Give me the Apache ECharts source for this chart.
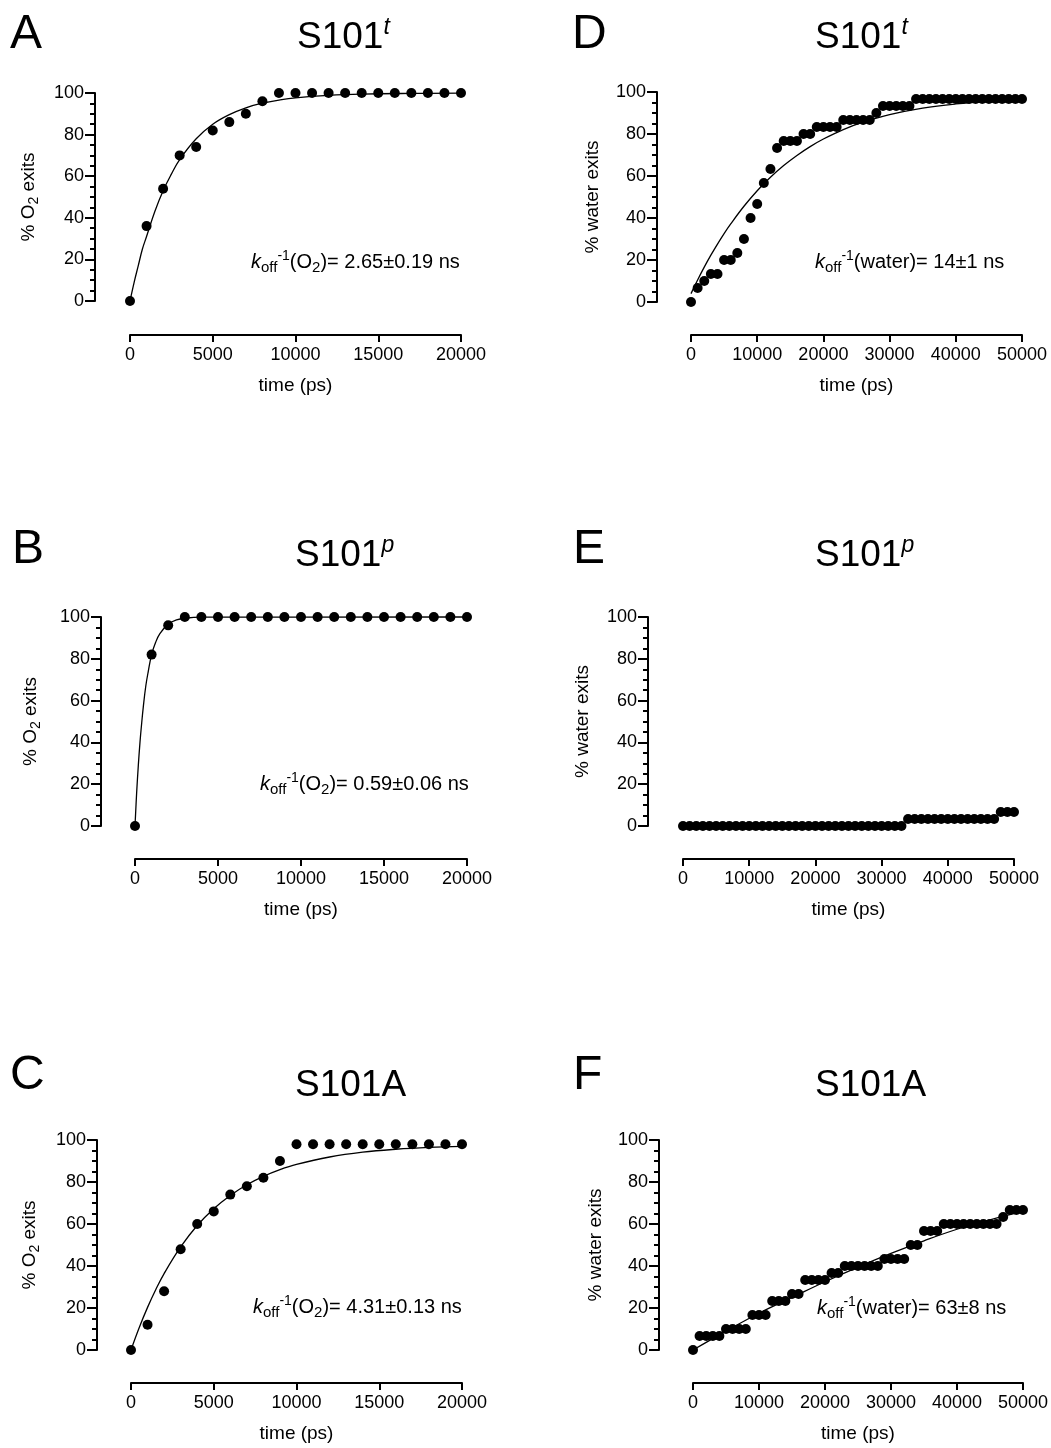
<!DOCTYPE html>
<html>
<head>
<meta charset="utf-8">
<script src="https://cdn.jsdelivr.net/npm/echarts@6/dist/echarts.min.js"></script>
<style>
  html, body { margin: 0; padding: 0; background: #fff; }
  #chart { width: 1051px; height: 1448px; }
</style>
</head>
<body>
<div id="chart"></div>
<script>
var myChart = echarts.init(document.getElementById('chart'));

// time points (ps)
var tO2 = [0, 1000, 2000, 3000, 4000, 5000, 6000, 7000, 8000, 9000, 10000,
  11000, 12000, 13000, 14000, 15000, 16000, 17000, 18000, 19000, 20000];
var tWater = [0, 1000, 2000, 3000, 4000, 5000, 6000, 7000, 8000, 9000, 10000,
  11000, 12000, 13000, 14000, 15000, 16000, 17000, 18000, 19000, 20000,
  21000, 22000, 23000, 24000, 25000, 26000, 27000, 28000, 29000, 30000,
  31000, 32000, 33000, 34000, 35000, 36000, 37000, 38000, 39000, 40000,
  41000, 42000, 43000, 44000, 45000, 46000, 47000, 48000, 49000, 50000];

// % O2 exits (A, B, C)
var o2A = [0, 36, 54, 70, 74, 82, 86, 90, 96, 100, 100, 100, 100, 100, 100, 100, 100, 100, 100, 100, 100];
var o2B = [0, 82, 96, 100, 100, 100, 100, 100, 100, 100, 100, 100, 100, 100, 100, 100, 100, 100, 100, 100, 100];
var o2C = [0, 12, 28, 48, 60, 66, 74, 78, 82, 90, 98, 98, 98, 98, 98, 98, 98, 98, 98, 98, 98];

// % water exits (D, E, F)
var waterD = [0, 6.67, 10, 13.33, 13.33, 20, 20, 23.33, 30, 40, 46.67,
  56.67, 63.33, 73.33, 76.67, 76.67, 76.67, 80, 80, 83.33, 83.33,
  83.33, 83.33, 86.67, 86.67, 86.67, 86.67, 86.67, 90, 93.33, 93.33,
  93.33, 93.33, 93.33, 96.67, 96.67, 96.67, 96.67, 96.67, 96.67, 96.67,
  96.67, 96.67, 96.67, 96.67, 96.67, 96.67, 96.67, 96.67, 96.67, 96.67];
var waterE = [0, 0, 0, 0, 0, 0, 0, 0, 0, 0, 0,
  0, 0, 0, 0, 0, 0, 0, 0, 0, 0,
  0, 0, 0, 0, 0, 0, 0, 0, 0, 0,
  0, 0, 0, 3.33, 3.33, 3.33, 3.33, 3.33, 3.33, 3.33,
  3.33, 3.33, 3.33, 3.33, 3.33, 3.33, 3.33, 6.67, 6.67, 6.67];
var waterF = [0, 6.67, 6.67, 6.67, 6.67, 10, 10, 10, 10, 16.67, 16.67,
  16.67, 23.33, 23.33, 23.33, 26.67, 26.67, 33.33, 33.33, 33.33, 33.33,
  36.67, 36.67, 40, 40, 40, 40, 40, 40, 43.33, 43.33,
  43.33, 43.33, 50, 50, 56.67, 56.67, 56.67, 60, 60, 60,
  60, 60, 60, 60, 60, 60, 63.33, 66.67, 66.67, 66.67];

// fitted curves: [time, %]
var fitA = [[0, 0], [250, 9], [500, 17], [750, 25], [1000, 31], [1500, 43], [2000, 53], [2500, 61],
  [3000, 68], [4000, 78], [5000, 85], [6000, 89.6], [7000, 92.9], [8000, 95.1], [9000, 96.6],
  [10000, 97.7], [12000, 98.9], [14000, 99.5], [17000, 99.8], [20000, 99.9]];
var fitB = [[0, 0], [100, 16], [200, 29], [300, 40], [400, 49], [500, 57], [650, 67], [800, 74],
  [1000, 82], [1250, 88], [1500, 92], [2000, 96.6], [2500, 98.6], [3000, 99.4], [4000, 99.9], [20000, 100]];
var fitC = [[0, 0], [500, 10.7], [1000, 20.3], [1500, 28.8], [2000, 36.4], [3000, 49.1], [4000, 59.3],
  [5000, 67.3], [6000, 73.6], [7000, 78.7], [8000, 82.7], [9000, 85.9], [10000, 88.4], [12000, 91.9],
  [14000, 94.2], [16000, 95.6], [18000, 96.5], [20000, 97]];
var fitD = [[0, 4], [1000, 10.5], [2000, 16.6], [3000, 22.3], [4000, 27.6], [5000, 32.6], [6000, 37.2],
  [8000, 45.6], [10000, 53], [12000, 59.4], [14000, 65], [16000, 69.8], [18000, 74], [20000, 77.6],
  [23000, 82.1], [26000, 85.6], [30000, 89.2], [35000, 92.3], [40000, 94.3], [45000, 95.6], [50000, 96.4]];
var fitF = [[0, 0], [5000, 9], [10000, 17.5], [15000, 25], [20000, 32.5], [25000, 39.5],
  [30000, 46], [35000, 52], [40000, 57.5], [45000, 62], [50000, 66]];

var FONT = 'Liberation Sans, Arial, sans-serif';
var INK = '#000';

var pairs = function(xs, ys) {
  var res = [];
  for (var i = 0; i < xs.length; i++) {
    res.push([xs[i], ys[i]]);
  }
  return res;
};

// panel layout
var panels = [
  {letter: 'A', title: '{m|S101}{sup|t}', yName: '% O{sub|2} exits', note: '{k|k}{sub|off}{sup|-1}{m|(O}{sub|2}{m|)= 2.65±0.19 ns}',
    left: 130, top: 93, width: 331, height: 208, yOff: 35, xOff: 34, nameGap: 54, xMax: 20000, xInt: 5000,
    pts: pairs(tO2, o2A), fit: fitA, letterPos: [10, 35], titlePos: [297, 38], notePos: [251, 262]},
  {letter: 'D', title: '{m|S101}{sup|t}', yName: '% water exits', note: '{k|k}{sub|off}{sup|-1}{m|(water)= 14±1 ns}',
    left: 691, top: 92, width: 331, height: 210, yOff: 34, xOff: 33, nameGap: 52, xMax: 50000, xInt: 10000,
    pts: pairs(tWater, waterD), fit: fitD, letterPos: [572, 35], titlePos: [815, 38], notePos: [815, 262]},
  {letter: 'B', title: '{m|S101}{sup|p}', yName: '% O{sub|2} exits', note: '{k|k}{sub|off}{sup|-1}{m|(O}{sub|2}{m|)= 0.59±0.06 ns}',
    left: 135, top: 617, width: 332, height: 209, yOff: 34, xOff: 33, nameGap: 58, xMax: 20000, xInt: 5000,
    pts: pairs(tO2, o2B), fit: fitB, letterPos: [12, 550], titlePos: [295, 556], notePos: [260, 784]},
  {letter: 'E', title: '{m|S101}{sup|p}', yName: '% water exits', note: null,
    left: 683, top: 617, width: 331, height: 209, yOff: 35, xOff: 33, nameGap: 53, xMax: 50000, xInt: 10000,
    pts: pairs(tWater, waterE), fit: null, letterPos: [573, 550], titlePos: [815, 556], notePos: null},
  {letter: 'C', title: '{m|S101A}', yName: '% O{sub|2} exits', note: '{k|k}{sub|off}{sup|-1}{m|(O}{sub|2}{m|)= 4.31±0.13 ns}',
    left: 131, top: 1140, width: 331, height: 210, yOff: 34, xOff: 33, nameGap: 55, xMax: 20000, xInt: 5000,
    pts: pairs(tO2, o2C), fit: fitC, letterPos: [10, 1076], titlePos: [295, 1086], notePos: [253, 1307]},
  {letter: 'F', title: '{m|S101A}', yName: '% water exits', note: '{k|k}{sub|off}{sup|-1}{m|(water)= 63±8 ns}',
    left: 693, top: 1140, width: 332, height: 210, yOff: 34, xOff: 33, nameGap: 51, xMax: 50000, xInt: 10000,
    pts: pairs(tWater, waterF), fit: fitF, letterPos: [573, 1076], titlePos: [815, 1086], notePos: [817, 1308]}
];

var noteRich = {
  m: {fontSize: 20, lineHeight: 26, fontFamily: FONT, fill: INK},
  k: {fontSize: 20, lineHeight: 26, fontFamily: FONT, fontStyle: 'italic', fill: INK},
  sub: {fontSize: 15, lineHeight: 13, fontFamily: FONT, fill: INK, verticalAlign: 'bottom'},
  sup: {fontSize: 14, lineHeight: 13, fontFamily: FONT, fill: INK, verticalAlign: 'top'}
};
var titleRich = {
  m: {fontSize: 37, lineHeight: 44, fontFamily: FONT, fill: INK},
  sup: {fontSize: 23, lineHeight: 24, fontFamily: FONT, fontStyle: 'italic', fill: INK, verticalAlign: 'top'}
};

var plainNum = function(v) { return String(v); };

var option = {
  backgroundColor: '#fff',
  animation: false,
  grid: [],
  xAxis: [],
  yAxis: [],
  series: [],
  graphic: []
};

for (var i = 0; i < panels.length; i++) {
  var p = panels[i];
  option.grid.push({left: p.left, top: p.top, width: p.width, height: p.height});

  option.xAxis.push({
    gridIndex: i, type: 'value', min: 0, max: p.xMax, interval: p.xInt,
    position: 'bottom', offset: p.xOff,
    axisLine: {show: true, onZero: false, lineStyle: {color: INK, width: 2}},
    axisTick: {show: true, length: 7, lineStyle: {color: INK, width: 2}},
    axisLabel: {fontSize: 18, color: INK, margin: 11, fontFamily: FONT, formatter: plainNum},
    splitLine: {show: false},
    name: 'time (ps)', nameLocation: 'middle', nameGap: 40,
    nameTextStyle: {fontSize: 19, lineHeight: 22, color: INK, fontFamily: FONT}
  });

  option.yAxis.push({
    gridIndex: i, type: 'value', min: 0, max: 100, interval: 20,
    position: 'left', offset: p.yOff,
    axisLine: {show: true, onZero: false, lineStyle: {color: INK, width: 2}},
    axisTick: {show: true, length: 10, lineStyle: {color: INK, width: 2}},
    minorTick: {show: true, splitNumber: 4, length: 5, lineStyle: {color: INK, width: 2}},
    axisLabel: {fontSize: 18, color: INK, margin: 11, fontFamily: FONT, formatter: plainNum},
    splitLine: {show: false},
    name: p.yName, nameLocation: 'middle', nameGap: p.nameGap,
    nameTextStyle: {
      fontSize: 19, lineHeight: 24, color: INK, fontFamily: FONT,
      rich: {
        sub: {fontSize: 14, lineHeight: 12, color: INK, fontFamily: FONT, verticalAlign: 'bottom'}
      }
    }
  });

  if (p.fit) {
    option.series.push({
      type: 'line', xAxisIndex: i, yAxisIndex: i, data: p.fit,
      showSymbol: false, smooth: 0.4, clip: false, z: 2,
      lineStyle: {color: INK, width: 1.3}
    });
  }
  option.series.push({
    type: 'scatter', xAxisIndex: i, yAxisIndex: i, data: p.pts,
    symbol: 'circle', symbolSize: 10, clip: false, z: 3,
    itemStyle: {color: '#000', opacity: 1}
  });

  option.graphic.push({
    type: 'text', x: p.letterPos[0], y: p.letterPos[1],
    style: {text: p.letter, fontSize: 48, fontFamily: FONT, fill: INK, align: 'left', verticalAlign: 'middle'}
  });
  option.graphic.push({
    type: 'text', x: p.titlePos[0], y: p.titlePos[1],
    style: {text: p.title, rich: titleRich, fontSize: 37, fontFamily: FONT, fill: INK, align: 'left', verticalAlign: 'middle'}
  });
  if (p.note) {
    option.graphic.push({
      type: 'text', x: p.notePos[0], y: p.notePos[1],
      style: {text: p.note, rich: noteRich, fontSize: 20, fontFamily: FONT, fill: INK, align: 'left', verticalAlign: 'middle'}
    });
  }
}

myChart.setOption(option);
</script>
</body>
</html>
